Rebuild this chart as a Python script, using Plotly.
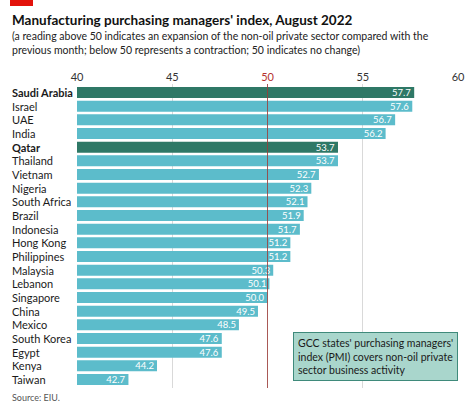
import plotly.graph_objects as go

countries = ["Saudi Arabia", "Israel", "UAE", "India", "Qatar", "Thailand", "Vietnam",
             "Nigeria", "South Africa", "Brazil", "Indonesia", "Hong Kong", "Philippines",
             "Malaysia", "Lebanon", "Singapore", "China", "Mexico", "South Korea", "Egypt",
             "Kenya", "Taiwan"]
values = [57.7, 57.6, 56.7, 56.2, 53.7, 53.7, 52.7, 52.3, 52.1, 51.9, 51.7, 51.2, 51.2,
          50.3, 50.1, 50.0, 49.5, 48.5, 47.6, 47.6, 44.2, 42.7]
gcc = ["Saudi Arabia", "Qatar"]
tick_vals = [40, 45, 50, 55, 60]

DARK = "#2e7866"
LIGHT = "#5cbccb"
FONT = "Lato"

# plot area geometry (px)
W, H = 474, 407
L, R, T, B = 77, 16, 84, 19
pw = W - L - R
ph = H - T - B

def px(xp):
    return (xp - L) / pw

def py(yp):
    return (H - B - yp) / ph

colors = [DARK if c in gcc else LIGHT for c in countries]

fig = go.Figure()
fig.add_trace(go.Bar(
    x=[v - 40 for v in values], base=40, y=countries, orientation="h",
    marker=dict(color=colors, line=dict(width=0)),
    width=0.8,
    text=[f"{v:.1f}" for v in values],
    textposition="inside", insidetextanchor="end", constraintext="none",
    textfont=dict(color="white", size=9.5, family=FONT),
    cliponaxis=False, hoverinfo="skip",
))

ticktext = [f"<span style='color:#b5332e'>{t}</span>" if t == 50 else str(t) for t in tick_vals]

fig.update_layout(
    width=W, height=H,
    margin=dict(l=L, r=R, t=T, b=B, pad=0, autoexpand=False),
    paper_bgcolor="white", plot_bgcolor="white",
    showlegend=False,
    bargap=0.2,
    font=dict(family=FONT, color="#222"),
    xaxis=dict(range=[40, 60], side="top", tickvals=tick_vals, ticktext=ticktext,
               showgrid=True, gridcolor="#d9d9d9", gridwidth=1.2, zeroline=False,
               showline=False, ticks="", tickfont=dict(size=11, color="#333", family=FONT),
               automargin=False, fixedrange=True),
    yaxis=dict(categoryorder="array", categoryarray=countries, autorange="reversed",
               showticklabels=False, showgrid=False, zeroline=False, ticks="",
               automargin=False, fixedrange=True),
)

# 50 reference line
fig.add_shape(type="line", xref="x", yref="paper", x0=50, x1=50, y0=0, y1=1.0,
              line=dict(color="#9e3a36", width=1), layer="above", opacity=0.8)

# country labels, left aligned
for c in countries:
    txt = f"<b>{c}</b>" if c in gcc else c
    fig.add_annotation(x=px(10), xref="paper", y=c, yref="y", text=txt,
                       showarrow=False, xanchor="left", yanchor="middle",
                       font=dict(size=11, color="#1a1a1a", family=FONT))

# red tag
fig.add_shape(type="rect", xref="paper", yref="paper", x0=px(10), x1=px(33),
              y0=py(6), y1=py(0), fillcolor="#e3120b", line=dict(width=0), layer="above")

fig.add_annotation(x=px(10), y=py(10), xref="paper", yref="paper", xanchor="left", yanchor="top",
                   text="<b>Manufacturing purchasing managers' index, August 2022</b>",
                   showarrow=False, font=dict(size=13.5, color="#111", family=FONT))
fig.add_annotation(x=px(10), y=py(28), xref="paper", yref="paper", xanchor="left", yanchor="top",
                   text="(a reading above 50 indicates an expansion of the non-oil private sector compared with the<br>previous month; below 50 represents a contraction; 50 indicates no change)",
                   align="left", showarrow=False,
                   font=dict(size=10.5, color="#222", family=FONT))
fig.add_annotation(x=px(10), y=py(390), xref="paper", yref="paper", xanchor="left", yanchor="top",
                   text="Source: EIU.", showarrow=False,
                   font=dict(size=9, color="#555", family=FONT))

# GCC note box
fig.add_annotation(x=px(293), y=py(332), xref="paper", yref="paper", xanchor="left", yanchor="top",
                   text="GCC states' purchasing managers'<br>index (PMI) covers non-oil private<br>sector business activity",
                   align="left", showarrow=False, bgcolor="#a9d6cc", bordercolor="#3f8a7b",
                   borderwidth=1, borderpad=4,
                   font=dict(size=10.5, color="#1a1a1a", family=FONT))

fig.write_html("out.html", config={"displayModeBar": False, "staticPlot": True},
               post_script="document.body.style.margin='0';document.body.style.padding='0';")
